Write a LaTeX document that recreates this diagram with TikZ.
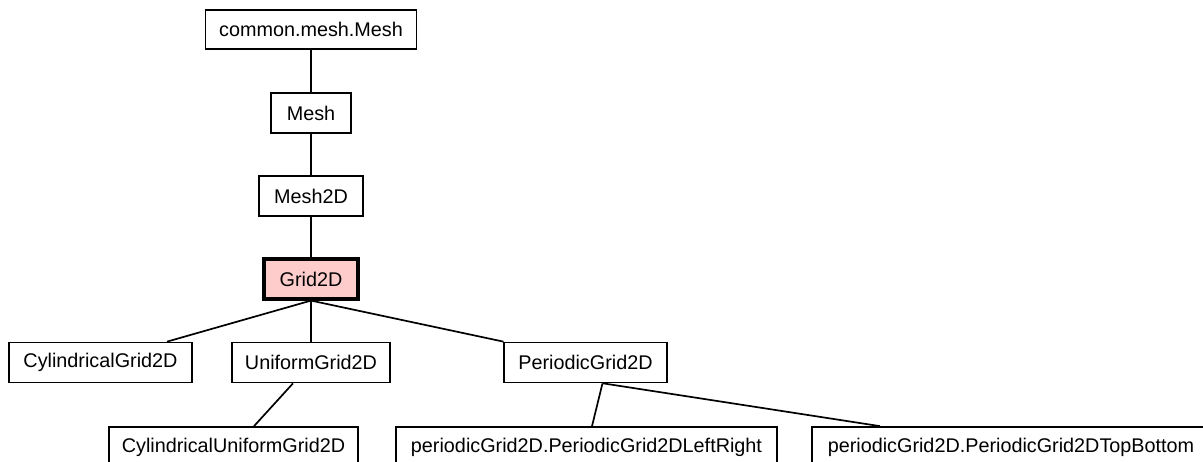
\documentclass[tikz,border=0pt]{standalone}
\usepackage{fontspec}
\setmainfont{Liberation Sans}
\definecolor{focusfill}{HTML}{FFCCCC}
\begin{document}
\begin{tikzpicture}[x=1pt,y=-1pt,
  cls/.style={draw=black, line width=1.7pt, fill=white, rectangle, inner sep=0pt,
    minimum height=40pt, font=\fontsize{19.8}{24}\selectfont, anchor=center},
  focus/.style={cls, fill=focusfill, line width=3.2pt},
  link/.style={draw=black, line width=1.7pt}]
\useasboundingbox (0,0) rectangle (1203,462);
\clip (0,0) rectangle (1203,462);

% class nodes
\node[cls, minimum width=211pt, minimum height=39pt] (top) at (311,29.5) {common.mesh.Mesh};
\node[cls, minimum width=80pt] (mesh) at (311,113) {Mesh};
\node[cls, minimum width=104pt] (mesh2d) at (311,196) {Mesh2D};
\node[focus, minimum width=94pt] (grid) at (311,279) {Grid2D};
\node[cls, minimum width=183pt] (cylg) at (100.5,362.5) {CylindricalGrid2D};
\node[cls, minimum width=158pt] (unif) at (311,362.5) {UniformGrid2D};
\node[cls, minimum width=163pt] (per) at (585.5,362.5) {PeriodicGrid2D};
\node[cls, minimum width=249pt] (cylu) at (233.5,447) {CylindricalUniformGrid2D};
\node[cls, minimum width=381pt] (lr) at (586.5,447) {periodicGrid2D.PeriodicGrid2DLeftRight};
\node[cls, minimum width=398pt] (tb) at (1011,447) {periodicGrid2D.PeriodicGrid2DTopBottom};

% inheritance links
\draw[link] (top.south) -- (mesh.north);
\draw[link] (mesh.south) -- (mesh2d.north);
\draw[link] (mesh2d.south) -- (grid.north);
\draw[link] (grid.south) -- ([xshift=66.5pt]cylg.north);
\draw[link] (grid.south) -- (unif.north);
\draw[link] (grid.south) -- ([xshift=-82pt]per.north);
\draw[link] ([xshift=-18pt]unif.south) -- ([xshift=20.5pt]cylu.north);
\draw[link] ([xshift=17pt]per.south) -- ([xshift=5.5pt]lr.north);
\draw[link] ([xshift=17.5pt]per.south) -- ([xshift=-131pt]tb.north);
\end{tikzpicture}
\end{document}
